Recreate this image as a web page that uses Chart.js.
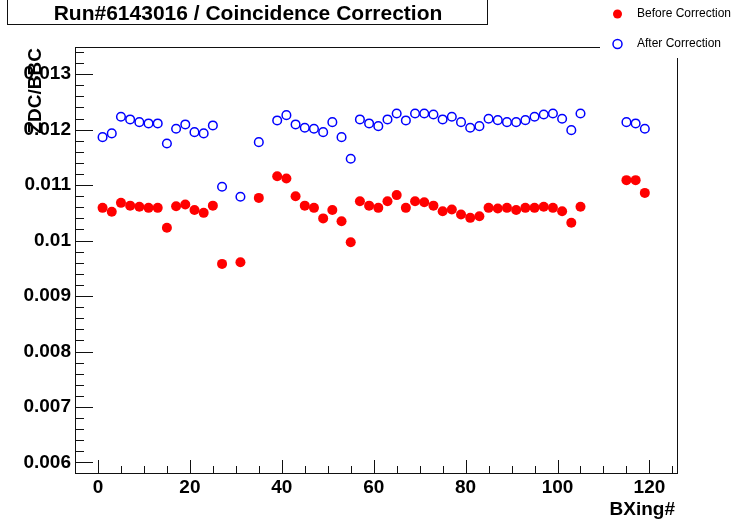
<!DOCTYPE html>
<html>
<head>
<meta charset="utf-8">
<script src="https://cdn.jsdelivr.net/npm/chart.js@4.4.1/dist/chart.umd.min.js"></script>
<style>
  html, body { margin: 0; padding: 0; background: #fff; }
  #wrap { width: 735px; height: 523px; position: relative; }
</style>
</head>
<body>
<div id="wrap"><canvas id="coinc"></canvas></div>
<script>
// bunch crossing numbers
var bxing = [1, 3, 5, 7, 9, 11, 13, 15, 17, 19, 21, 23, 25, 27, 31, 35,
  39, 41, 43, 45, 47, 49, 51, 53, 55, 57, 59, 61, 63, 65, 67, 69, 71, 73, 75, 77,
  79, 81, 83, 85, 87, 89, 91, 93, 95, 97, 99, 101, 103, 105, 115, 117, 119];

// ZDC/BBC before coincidence correction (red)
var beforeCorr = [0.01059, 0.01052, 0.01068, 0.01063, 0.01061, 0.01059, 0.01059, 0.01023,
  0.01062, 0.01065, 0.01055, 0.01050, 0.01063, 0.00958, 0.00961, 0.01077,
  0.01116, 0.01112, 0.01080, 0.01063, 0.01059, 0.01040, 0.01055, 0.01035, 0.00997,
  0.01071, 0.01063, 0.01059, 0.01071, 0.01082, 0.01059, 0.01071, 0.01069, 0.01063,
  0.01053, 0.01056, 0.01047, 0.01041, 0.01044, 0.01059, 0.01058, 0.01059, 0.01055,
  0.01059, 0.01059, 0.01061, 0.01059, 0.01053, 0.01032, 0.01061,
  0.01109, 0.01109, 0.01086];

// after coincidence correction (blue)
var afterCorr = [0.011865, 0.011932, 0.012232, 0.012184, 0.012135, 0.012112, 0.012112, 0.011751,
  0.012016, 0.012094, 0.011955, 0.011932, 0.012076, 0.010971, 0.010791, 0.011775,
  0.012166, 0.012261, 0.012094, 0.012034, 0.012016, 0.011955, 0.012135, 0.011865, 0.011476,
  0.012184, 0.012112, 0.012063, 0.012184, 0.012292, 0.012166, 0.012292, 0.012292, 0.012274,
  0.012184, 0.012232, 0.012135, 0.012034, 0.012063, 0.012196, 0.012171, 0.012135, 0.012135,
  0.012171, 0.012232, 0.012274, 0.012292, 0.012196, 0.011991, 0.012292,
  0.012135, 0.012112, 0.012016];

var xTicks = [0, 20, 40, 60, 80, 100, 120];
var yTicks = [0.006, 0.007, 0.008, 0.009, 0.01, 0.011, 0.012, 0.013];
var yTickLabels = ['0.006', '0.007', '0.008', '0.009', '0.01', '0.011', '0.012', '0.013'];

var titleText = 'Run#6143016 / Coincidence Correction';
var xTitle = 'BXing#';
var yTitle = 'ZDC/BBC';

var FONT = '"Liberation Sans", Arial, Helvetica, sans-serif';

function pts(ys) {
  return bxing.map(function(x, i) { return { x: x, y: ys[i] }; });
}

// ROOT-like frame, inward ticks, titles and legend
var rootDecor = {
  id: 'rootDecor',
  afterDraw: function(chart) {
    var ctx = chart.ctx;
    var a = chart.chartArea;
    var xs = chart.scales.x, ys = chart.scales.y;
    ctx.save();
    ctx.strokeStyle = '#111';
    ctx.lineWidth = 1;

    // frame
    ctx.strokeRect(Math.round(a.left) + 0.5, Math.round(a.top) + 0.5,
      Math.round(a.right - a.left), Math.round(a.bottom - a.top));

    // y ticks (major 0.001, minor 0.0002)
    ctx.beginPath();
    for (var v = 0.0058; v <= 0.01351; v += 0.0002) {
      var py = ys.getPixelForValue(v);
      if (py < a.top || py > a.bottom) continue;
      var k = Math.round(v * 10000);
      var len = (k % 10 === 0) ? 18 : 9;
      py = Math.round(py) + 0.5;
      ctx.moveTo(a.left, py);
      ctx.lineTo(a.left + len, py);
    }
    // x ticks (major 20, minor 5)
    for (var t = -5; t <= 126; t += 5) {
      var px = xs.getPixelForValue(t);
      if (px < a.left || px > a.right) continue;
      var l2 = (t % 20 === 0) ? 13 : 7;
      px = Math.round(px) + 0.5;
      ctx.moveTo(px, a.bottom);
      ctx.lineTo(px, a.bottom - l2);
    }
    ctx.stroke();

    // legend pad covers the frame corner
    ctx.fillStyle = '#fff';
    ctx.fillRect(600, 0, 135, 58);

    // title box
    ctx.strokeRect(7.5, -5.5, 480, 30);
    ctx.fillStyle = '#000';
    ctx.font = 'bold 21px ' + FONT;
    ctx.textAlign = 'center';
    ctx.textBaseline = 'middle';
    ctx.fillText(titleText, 248, 14);

    // axis titles
    ctx.font = 'bold 19px ' + FONT;
    ctx.textAlign = 'right';
    ctx.textBaseline = 'alphabetic';
    ctx.fillText(xTitle, 675, 515);
    ctx.save();
    ctx.translate(41, 48);
    ctx.rotate(-Math.PI / 2);
    ctx.textAlign = 'right';
    ctx.fillText(yTitle, 0, 0);
    ctx.restore();

    // legend
    var ds = chart.data.datasets;
    var rows = [14, 44];
    ctx.font = '12px ' + FONT;
    ctx.textAlign = 'left';
    ctx.textBaseline = 'middle';
    ds.forEach(function(d, i) {
      ctx.beginPath();
      ctx.arc(617.5, rows[i], 4.5, 0, Math.PI * 2);
      if (d.backgroundColor !== 'rgba(0,0,0,0)') {
        ctx.fillStyle = d.backgroundColor;
        ctx.fill();
      }
      if (d.borderWidth > 0) {
        ctx.lineWidth = d.borderWidth;
        ctx.strokeStyle = d.borderColor;
        ctx.stroke();
      }
      ctx.fillStyle = '#000';
      ctx.fillText(d.label, 637, rows[i]);
    });
    ctx.restore();
  }
};

new Chart(document.getElementById('coinc'), {
  type: 'scatter',
  data: {
    datasets: [
      {
        label: 'Before Correction',
        data: pts(beforeCorr),
        backgroundColor: '#ff0000',
        borderColor: '#ff0000',
        borderWidth: 0,
        pointRadius: 5,
        pointHoverRadius: 5
      },
      {
        label: 'After Correction',
        data: pts(afterCorr),
        backgroundColor: 'rgba(0,0,0,0)',
        borderColor: '#0000ff',
        borderWidth: 1.5,
        pointRadius: 4.3,
        pointHoverRadius: 4.3
      }
    ]
  },
  options: {
    responsive: true,
    maintainAspectRatio: false,
    animation: false,
    events: [],
    layout: { padding: { left: 0, top: 47, right: 58, bottom: 0 } },
    plugins: {
      legend: { display: false },
      title: { display: false },
      tooltip: { enabled: false }
    },
    scales: {
      x: {
        type: 'linear',
        min: -5,
        max: 126,
        grid: { display: false, drawTicks: false },
        border: { display: false },
        afterBuildTicks: function(scale) {
          scale.ticks = xTicks.map(function(v) { return { value: v }; });
        },
        afterFit: function(scale) { scale.height = 50; },
        ticks: {
          color: '#000',
          padding: 3,
          maxRotation: 0,
          autoSkip: false,
          font: { family: FONT, size: 19, weight: 'bold' }
        }
      },
      y: {
        min: 0.00581,
        max: 0.01349,
        grid: { display: false, drawTicks: false },
        border: { display: false },
        afterBuildTicks: function(scale) {
          scale.ticks = yTicks.map(function(v) { return { value: v }; });
        },
        afterFit: function(scale) { scale.width = 75; },
        ticks: {
          color: '#000',
          padding: 4,
          autoSkip: false,
          font: { family: FONT, size: 19, weight: 'bold' },
          callback: function(value, index) { return yTickLabels[index]; }
        }
      }
    }
  },
  plugins: [rootDecor]
});
</script>
</body>
</html>
